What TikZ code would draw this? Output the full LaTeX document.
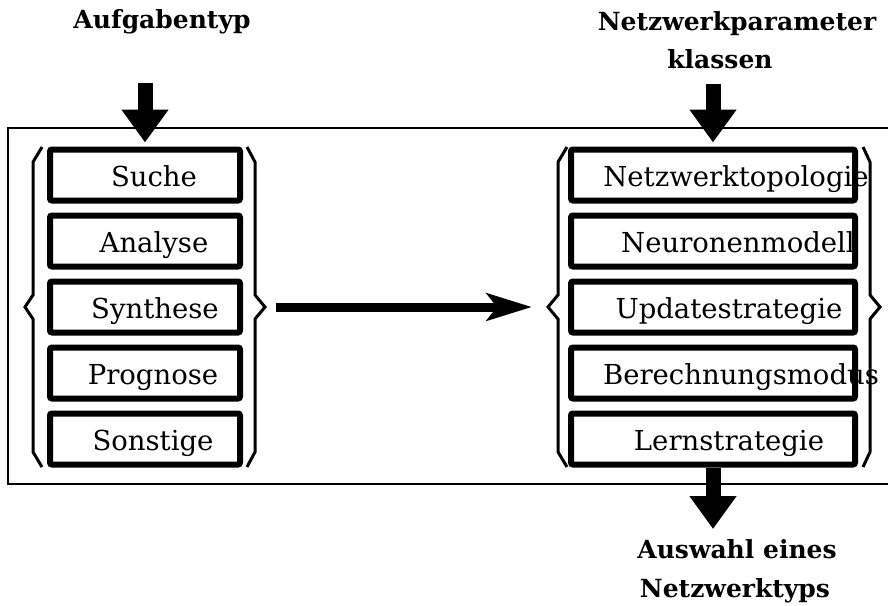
\documentclass[tikz,border=0pt]{standalone}
\usepackage{fontspec}
\setmainfont{DejaVu Serif}
\usetikzlibrary{arrows.meta}
\tikzset{
  lbox/.style={draw, line width=6pt, rounded corners=2pt, minimum width=190pt, minimum height=51pt, inner sep=0pt},
  rbox/.style={draw, line width=6pt, rounded corners=2pt, minimum width=284pt, minimum height=51pt, inner sep=0pt},
  boxtext/.style={anchor=base, inner sep=0pt, font=\fontsize{27.5}{32}\selectfont},
  titletext/.style={anchor=base, inner sep=0pt, font=\bfseries\fontsize{25}{30}\selectfont},
  bracepath/.style={line width=3pt, line join=miter},
  vArrow/.style={line width=15pt, -{Triangle[length=33pt,width=45pt]}},
  hArrow/.style={line width=9pt, -{Stealth[length=45pt,width=27pt,inset=10pt]}},
  frame/.style={line width=2.5pt}
}
\begin{document}
\begin{tikzpicture}[x=1pt,y=-1pt]
\useasboundingbox (0,0) rectangle (888,605);
% outer frame
\draw[frame] (892,128) -- (8,128) -- (8,484) -- (892,484);
% left boxes
\node[lbox] (l1) at (145,175) {};
\node[lbox] (l2) at (145,241) {};
\node[lbox] (l3) at (145,307) {};
\node[lbox] (l4) at (145,373) {};
\node[lbox] (l5) at (145,439) {};
\node[boxtext] (tl1) at (154,186) {Suche};
\node[boxtext] (tl2) at (154,252) {Analyse};
\node[boxtext] (tl3) at (155,318) {Synthese};
\node[boxtext] (tl4) at (153,384) {Prognose};
\node[boxtext] (tl5) at (153,450) {Sonstige};
% right boxes
\node[rbox] (r1) at (713,175) {};
\node[rbox] (r2) at (713,241) {};
\node[rbox] (r3) at (713,307) {};
\node[rbox] (r4) at (713,373) {};
\node[rbox] (r5) at (713,439) {};
\node[boxtext] (tr1) at (736,186) {Netzwerktopologie};
\node[boxtext] (tr2) at (738,252) {Neuronenmodell};
\node[boxtext] (tr3) at (729,318) {Updatestrategie};
\node[boxtext] (tr4) at (741,384) {Berechnungsmodus};
\node[boxtext] (tr5) at (729,450) {Lernstrategie};
% braces
\coordinate (lbL) at (25,307);
\coordinate (lbR) at (265,307);
\coordinate (rbL) at (548,307);
\coordinate (rbR) at (880,307);
\draw[bracepath] (42,147) -- (33,162) -- (33,295) -- (lbL) -- (33,319) -- (33,452) -- (42,467);
\draw[bracepath] (247,147) -- (255,162) -- (255,295) -- (lbR) -- (255,319) -- (255,452) -- (247,467);
\draw[bracepath] (567,147) -- (558,162) -- (558,295) -- (rbL) -- (558,319) -- (558,452) -- (567,467);
\draw[bracepath] (863,147) -- (870,162) -- (870,295) -- (rbR) -- (870,319) -- (870,452) -- (863,467);
% titles
\node[titletext] (tA) at (162,28) {Aufgabentyp};
\node[titletext] (tN1) at (737,30) {Netzwerkparameter};
\node[titletext] (tN2) at (720,68) {klassen};
\node[titletext] (tW1) at (737,558) {Auswahl eines};
\node[titletext] (tW2) at (735,597) {Netzwerktyps};
% arrows
\coordinate (aA) at (145,83);
\coordinate (aN) at (713,84);
\coordinate (aW) at (713,529);
\draw[vArrow, shorten >=4pt] (aA) -- (l1.north);
\draw[vArrow, shorten >=4pt] (aN) -- (r1.north);
\draw[vArrow] (r5.south) -- (aW);
\draw[hArrow, shorten <=11pt, shorten >=16pt] (lbR) -- (rbL);
\end{tikzpicture}
\end{document}
